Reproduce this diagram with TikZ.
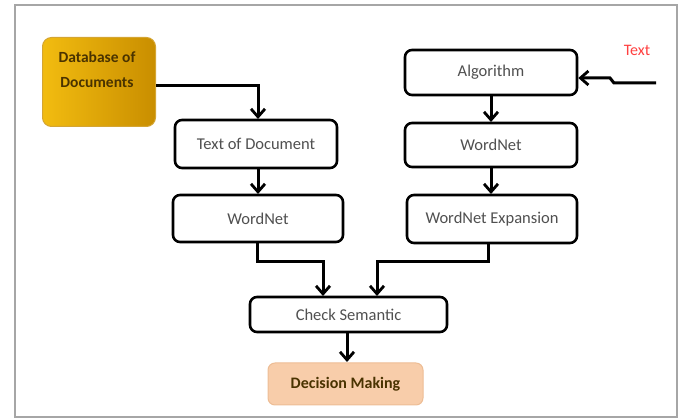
\documentclass[tikz,border=0pt]{standalone}
\usepackage{fontspec}
\setmainfont{Carlito}
\usetikzlibrary{arrows.meta}
\definecolor{gold1}{HTML}{F2BC10}
\definecolor{gold2}{HTML}{C98E00}
\definecolor{peach}{HTML}{F8CDAA}
\definecolor{txtgray}{HTML}{505050}
\definecolor{dbtxt}{HTML}{4A3300}
\begin{document}
\begin{tikzpicture}[x=1pt,y=-1pt,
  box/.style={draw=black,line width=2.6pt,rounded corners=7pt,fill=white,text=txtgray,font=\fontsize{16.5}{18}\selectfont,inner sep=0pt},
  conn/.style={line width=3pt,-{Straight Barb[length=8pt,width=14pt,line width=2.8pt]}}]
\useasboundingbox (0,0) rectangle (681,419);
\draw[gray!70,line width=1.5pt] (15,5) rectangle (677,417);
% nodes
\node[rounded corners=9pt,left color=gold1,right color=gold2,draw=gold2!80,line width=1pt,minimum width=113pt,minimum height=89pt,inner sep=0pt,align=center,anchor=north west] (db) at (42,37) {};
\node[text=dbtxt,font=\bfseries\fontsize{15.5}{25}\selectfont,align=center] at (97,70) {Database of\\Documents};
\node[box,minimum width=162pt,minimum height=48pt] (tod) at (256,144) {Text of Document};
\node[box,minimum width=170pt,minimum height=47pt] (wnl) at (258,218.5) {WordNet};
\node[box,minimum width=172pt,minimum height=45pt] (alg) at (491,72.5) {Algorithm};
\node[box,minimum width=172pt,minimum height=44pt] (wnr) at (491,145) {WordNet};
\node[box,minimum width=170pt,minimum height=48pt] (wne) at (492,219) {WordNet Expansion};
\node[box,minimum width=197pt,minimum height=35pt] (cs) at (348.5,314.5) {Check Semantic};
\node[rounded corners=7pt,fill=peach,draw=peach!80!brown,line width=1pt,minimum width=155pt,minimum height=42pt,inner sep=0pt,text=dbtxt,font=\bfseries\fontsize{16}{18}\selectfont] (dm) at (345.5,384) {Decision Making};
\node[text=red!75!white,font=\fontsize{16}{18}\selectfont] (txt) at (637,50) {Text};
\coordinate (tin) at (656,83);
% connectors
\draw[conn] (db.east |- 0,86) -- (258,86) -- (258,120-1);
\draw[conn] (258,168) -- (258,195-1);
\draw[conn] (491,95) -- (491,123-1);
\draw[conn] (491,167) -- (491,195-1);
\draw[conn] (tin) -- (614,83) -- (610,78) -- (alg.east |- 0,78);
\draw[conn] (257,242) -- (257,262) -- (323,262) -- (323,297-1);
\draw[conn] (488,243) -- (488,262) -- (377,262) -- (377,297-1);
\draw[conn] (347,332) -- (347,363-1);
\end{tikzpicture}
\end{document}
